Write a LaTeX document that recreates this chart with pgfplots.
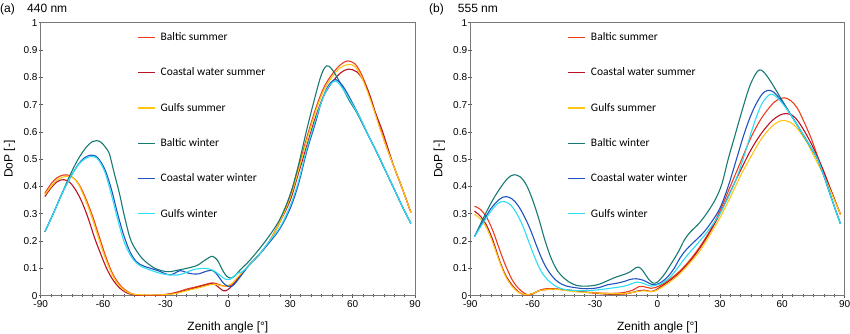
\documentclass[border=0pt]{standalone}
\usepackage{pgfplots}
\pgfplotsset{compat=1.18}
\usepackage{fontspec}
\setmainfont{Liberation Sans}
\newfontfamily\legfont{Carlito}
\definecolor{cBS}{RGB}{238,62,28}
\definecolor{cCS}{RGB}{185,18,38}
\definecolor{cGS}{RGB}{255,198,20}
\definecolor{cBW}{RGB}{22,122,112}
\definecolor{cCW}{RGB}{32,82,192}
\definecolor{cGW}{RGB}{45,222,242}
\definecolor{frame}{RGB}{120,120,120}
\pgfplotsset{
  dop/.style={
    scale only axis, width=374.3pt, height=273pt,
    xmin=-90, xmax=90, ymin=0, ymax=1,
    xtick={-90,-60,-30,0,30,60,90},
    xticklabels={-90,-60,-30,0,30,60,90},
    ytick={0,0.1,0.2,0.3,0.4,0.5,0.6,0.7,0.8,0.9,1},
    yticklabels={0,0.1,0.2,0.3,0.4,0.5,0.6,0.7,0.8,0.9,1},
    minor x tick num=5,
    xtick pos=left, ytick pos=left,
    tick align=center, major tick length=4pt, minor tick length=2.5pt,
    tick style={frame!70!black, line width=0.6pt},
    axis line style={frame, line width=0.8pt},
    ticklabel style={font=\fontsize{10}{12}\selectfont, inner sep=1pt},
    xticklabel style={yshift=-1.5pt},
    label style={font=\fontsize{12}{14}\selectfont},
    xlabel={Zenith angle [°]},
    ylabel={DoP [-]},
    xlabel style={at={(axis description cs:0.5,-0.115)}, anchor=center},
    ylabel style={at={(axis description cs:-0.083,0.5)}, anchor=center},
    legend cell align=left,
    legend style={draw=none, fill=none, inner sep=0pt, row sep=25.8pt, column sep=5pt,
      font=\legfont\fontsize{11.5}{13}\selectfont,
      nodes={inner sep=0pt}},
    every axis plot/.append style={line width=1.1pt, smooth, tension=0.55, no markers},
  },
  leg/.style={legend image code/.code={\fill[#1] (0pt,-1.5pt) rectangle (34pt,1.5pt);}},
}
\begin{document}
\begin{tikzpicture}
% ---------------- panel (a) 440 nm ----------------
\begin{axis}[dop, at={(40.7pt,38.3pt)}, anchor=south west,
  legend style={at={(axis description cs:0.258,0.964)}, anchor=north west}]
\addplot[cBS] coordinates {(-88,0.375) (-85,0.41) (-82,0.433) (-79,0.442) (-77,0.442) (-74,0.43) (-71,0.40) (-68,0.35) (-65,0.29) (-62,0.22) (-59,0.15) (-56,0.09) (-53,0.05) (-50,0.025) (-47,0.01) (-44,0.003) (-40,0.001) (-35,0.002) (-30,0.005) (-25,0.012) (-20,0.024) (-15,0.033) (-10,0.043) (-7,0.047) (-4,0.04) (-1,0.034) (2,0.04) (5,0.065) (10,0.11) (15,0.15) (20,0.2) (25,0.27) (30,0.37) (34,0.47) (38,0.58) (42,0.68) (46,0.76) (50,0.81) (54,0.845) (57.5,0.86) (61,0.85) (64,0.815) (67,0.76) (70,0.69) (73,0.62) (76,0.55) (80,0.47) (84,0.39) (88,0.305)};
\addplot[cCS] coordinates {(-88,0.363) (-85,0.395) (-82,0.418) (-79,0.425) (-76,0.415) (-73,0.385) (-70,0.34) (-67,0.28) (-64,0.21) (-61,0.15) (-58,0.095) (-55,0.055) (-52,0.028) (-49,0.012) (-46,0.004) (-42,0.001) (-35,0.001) (-30,0.003) (-25,0.01) (-20,0.02) (-15,0.03) (-10,0.04) (-8,0.045) (-6,0.04) (-4,0.028) (-2,0.018) (0,0.022) (3,0.045) (6,0.075) (10,0.11) (15,0.15) (20,0.2) (25,0.27) (30,0.35) (34,0.45) (38,0.55) (42,0.65) (46,0.73) (50,0.78) (54,0.815) (58,0.83) (62,0.82) (65,0.79) (68,0.74) (71,0.67) (74,0.61) (77,0.54) (80,0.47) (84,0.39) (88,0.305)};
\addplot[cGS] coordinates {(-88,0.37) (-85,0.40) (-82,0.425) (-78,0.437) (-75,0.435) (-72,0.41) (-69,0.36) (-66,0.30) (-63,0.23) (-60,0.16) (-57,0.1) (-54,0.055) (-51,0.028) (-48,0.012) (-45,0.005) (-40,0.003) (-35,0.003) (-30,0.004) (-25,0.008) (-20,0.018) (-15,0.027) (-10,0.037) (-7,0.042) (-4,0.038) (-1,0.035) (2,0.045) (5,0.07) (10,0.11) (15,0.15) (20,0.2) (25,0.27) (30,0.36) (34,0.46) (38,0.57) (42,0.67) (46,0.75) (50,0.8) (54,0.835) (58,0.847) (61,0.84) (64,0.805) (67,0.75) (70,0.685) (73,0.615) (76,0.55) (80,0.47) (84,0.39) (88,0.305)};
\addplot[cBW] coordinates {(-88,0.234) (-84,0.3) (-80,0.37) (-76,0.44) (-72,0.5) (-68,0.545) (-65,0.565) (-63,0.568) (-61,0.562) (-59,0.545) (-57,0.52) (-55,0.46) (-52,0.37) (-50,0.30) (-47,0.21) (-44,0.165) (-41,0.135) (-38,0.115) (-35,0.1) (-31,0.09) (-28,0.088) (-25,0.092) (-20,0.1) (-15,0.11) (-12,0.125) (-9,0.14) (-7.3,0.144) (-5,0.13) (-3,0.1) (-1,0.075) (1,0.065) (3,0.07) (6,0.095) (10,0.125) (15,0.17) (20,0.22) (25,0.28) (30,0.37) (34,0.48) (38,0.61) (42,0.73) (45,0.81) (47.5,0.842) (50,0.83) (54,0.78) (58,0.72) (62,0.67) (66,0.61) (70,0.55) (75,0.47) (80,0.39) (84,0.325) (88,0.265)};
\addplot[cCW] coordinates {(-88,0.234) (-84,0.3) (-80,0.37) (-76,0.43) (-72,0.48) (-69,0.505) (-66,0.515) (-64,0.513) (-62,0.5) (-59,0.46) (-56,0.39) (-53,0.3) (-50,0.22) (-47,0.16) (-44,0.125) (-41,0.11) (-37,0.1) (-33,0.09) (-30,0.08) (-28,0.076) (-26,0.08) (-23,0.092) (-20,0.085) (-17,0.08) (-14,0.08) (-11,0.088) (-8,0.093) (-6,0.085) (-4,0.065) (-2,0.045) (0,0.035) (2,0.035) (4,0.05) (7,0.08) (10,0.11) (15,0.15) (20,0.195) (25,0.245) (30,0.32) (34,0.41) (38,0.53) (42,0.63) (45,0.71) (48,0.765) (51,0.79) (53,0.787) (56,0.76) (60,0.705) (64,0.645) (68,0.58) (72,0.52) (76,0.455) (80,0.39) (84,0.325) (88,0.265)};
\addplot[cGW] coordinates {(-88,0.234) (-84,0.3) (-80,0.37) (-76,0.43) (-72,0.478) (-69,0.5) (-66,0.51) (-64,0.508) (-62,0.495) (-59,0.45) (-56,0.37) (-53,0.28) (-50,0.2) (-47,0.15) (-44,0.12) (-41,0.105) (-37,0.093) (-33,0.083) (-30,0.078) (-27,0.076) (-24,0.076) (-21,0.082) (-18,0.092) (-15,0.098) (-12,0.1) (-9,0.098) (-6,0.088) (-3,0.07) (-1,0.06) (1,0.06) (3,0.072) (5,0.083) (7,0.088) (10,0.11) (15,0.15) (20,0.2) (25,0.25) (30,0.33) (34,0.42) (38,0.54) (42,0.64) (45,0.71) (48,0.76) (51,0.785) (53,0.78) (56,0.75) (60,0.7) (64,0.645) (68,0.58) (72,0.52) (76,0.455) (80,0.39) (84,0.325) (88,0.265)};
\addlegendimage{leg=cBS}\addlegendentry{Baltic summer}
\addlegendimage{leg=cCS}\addlegendentry{Coastal water summer}
\addlegendimage{leg=cGS}\addlegendentry{Gulfs summer}
\addlegendimage{leg=cBW}\addlegendentry{Baltic winter}
\addlegendimage{leg=cCW}\addlegendentry{Coastal water winter}
\addlegendimage{leg=cGW}\addlegendentry{Gulfs winter}
\end{axis}
% ---------------- panel (b) 555 nm ----------------
\begin{axis}[dop, at={(470.3pt,38.3pt)}, anchor=south west,
  legend style={at={(axis description cs:0.260,0.964)}, anchor=north west}]
\addplot[cBS] coordinates {(-88,0.328) (-85,0.315) (-82,0.285) (-79,0.235) (-76,0.17) (-73,0.11) (-70,0.06) (-67,0.028) (-64,0.009) (-62,0.003) (-60,0.006) (-58,0.015) (-56,0.022) (-53,0.026) (-49,0.025) (-45,0.022) (-40,0.018) (-35,0.014) (-30,0.011) (-25,0.009) (-20,0.009) (-16,0.012) (-12,0.02) (-9,0.033) (-7,0.034) (-5,0.03) (-3,0.027) (-1,0.03) (2,0.04) (5,0.055) (10,0.085) (15,0.125) (20,0.175) (25,0.235) (30,0.31) (35,0.4) (40,0.49) (45,0.58) (50,0.65) (55,0.7) (58,0.718) (61,0.725) (64,0.715) (67,0.69) (70,0.645) (74,0.575) (77,0.51) (80,0.45) (84,0.375) (88,0.298)};
\addplot[cCS] coordinates {(-88,0.31) (-85,0.29) (-82,0.255) (-79,0.2) (-76,0.13) (-73,0.075) (-70,0.04) (-67,0.015) (-64,0.003) (-62,0.003) (-60,0.008) (-57,0.018) (-54,0.022) (-50,0.024) (-45,0.022) (-40,0.018) (-35,0.013) (-30,0.009) (-25,0.006) (-20,0.005) (-15,0.007) (-12,0.012) (-9,0.018) (-6,0.02) (-3,0.015) (-1,0.02) (2,0.035) (5,0.05) (10,0.08) (15,0.12) (20,0.17) (25,0.23) (30,0.3) (35,0.38) (40,0.46) (45,0.535) (50,0.595) (55,0.64) (59,0.662) (62,0.667) (65,0.66) (68,0.635) (72,0.585) (76,0.525) (80,0.455) (84,0.375) (88,0.298)};
\addplot[cGS] coordinates {(-88,0.298) (-85,0.28) (-82,0.245) (-79,0.19) (-76,0.125) (-73,0.07) (-70,0.035) (-67,0.013) (-64,0.004) (-62,0.004) (-60,0.008) (-57,0.018) (-54,0.022) (-50,0.024) (-45,0.02) (-40,0.015) (-35,0.012) (-30,0.01) (-25,0.008) (-20,0.007) (-15,0.008) (-12,0.012) (-9,0.016) (-6,0.018) (-3,0.015) (-1,0.018) (2,0.03) (5,0.045) (10,0.075) (15,0.115) (20,0.16) (25,0.22) (30,0.285) (35,0.36) (40,0.44) (45,0.51) (50,0.575) (55,0.62) (59,0.64) (62,0.64) (65,0.63) (68,0.605) (72,0.56) (76,0.5) (80,0.44) (84,0.37) (88,0.298)};
\addplot[cBW] coordinates {(-88,0.216) (-84,0.28) (-80,0.34) (-76,0.39) (-72,0.43) (-69,0.443) (-66,0.435) (-63,0.405) (-60,0.35) (-57,0.28) (-54,0.2) (-51,0.135) (-48,0.09) (-45,0.065) (-42,0.048) (-39,0.038) (-36,0.035) (-32,0.036) (-28,0.042) (-24,0.055) (-20,0.068) (-16,0.078) (-13,0.088) (-10,0.104) (-8,0.1) (-6,0.08) (-4,0.058) (-2,0.046) (0,0.05) (3,0.075) (6,0.11) (10,0.16) (13,0.205) (16,0.235) (20,0.265) (24,0.305) (28,0.355) (31,0.41) (34,0.5) (37,0.58) (40,0.66) (44,0.76) (47,0.81) (49,0.827) (51,0.82) (54,0.79) (58,0.74) (62,0.69) (66,0.64) (70,0.59) (74,0.54) (77,0.5) (80,0.44) (84,0.35) (88,0.263)};
\addplot[cCW] coordinates {(-88,0.216) (-84,0.27) (-80,0.32) (-76,0.353) (-73,0.363) (-70,0.355) (-67,0.33) (-64,0.29) (-61,0.24) (-58,0.18) (-55,0.125) (-52,0.085) (-49,0.058) (-46,0.042) (-43,0.034) (-40,0.03) (-36,0.026) (-32,0.026) (-28,0.03) (-24,0.04) (-20,0.045) (-16,0.052) (-13,0.06) (-10,0.062) (-7,0.057) (-5,0.05) (-3,0.042) (-1,0.04) (2,0.05) (5,0.07) (8,0.1) (11,0.14) (14,0.17) (18,0.2) (22,0.23) (26,0.27) (30,0.32) (34,0.4) (38,0.5) (42,0.6) (46,0.68) (50,0.735) (53,0.752) (56,0.745) (60,0.71) (63,0.675) (66,0.64) (70,0.59) (74,0.54) (77,0.5) (80,0.44) (84,0.35) (88,0.263)};
\addplot[cGW] coordinates {(-88,0.216) (-84,0.265) (-80,0.31) (-77,0.337) (-74,0.345) (-71,0.335) (-68,0.305) (-65,0.26) (-62,0.2) (-59,0.14) (-56,0.09) (-53,0.06) (-50,0.04) (-47,0.028) (-44,0.022) (-40,0.019) (-36,0.018) (-32,0.019) (-28,0.022) (-24,0.026) (-20,0.03) (-16,0.035) (-13,0.042) (-10,0.05) (-8,0.048) (-5,0.04) (-3,0.035) (-1,0.038) (2,0.045) (5,0.06) (8,0.085) (11,0.115) (14,0.145) (18,0.18) (22,0.215) (26,0.255) (30,0.3) (34,0.36) (38,0.43) (42,0.52) (46,0.62) (50,0.7) (54,0.737) (57,0.73) (60,0.705) (63,0.675) (66,0.64) (70,0.59) (74,0.54) (77,0.5) (80,0.44) (84,0.35) (88,0.263)};
\addlegendimage{leg=cBS}\addlegendentry{Baltic summer}
\addlegendimage{leg=cCS}\addlegendentry{Coastal water summer}
\addlegendimage{leg=cGS}\addlegendentry{Gulfs summer}
\addlegendimage{leg=cBW}\addlegendentry{Baltic winter}
\addlegendimage{leg=cCW}\addlegendentry{Coastal water winter}
\addlegendimage{leg=cGW}\addlegendentry{Gulfs winter}
\end{axis}
\node[anchor=base west, font=\fontsize{12}{14}\selectfont, inner sep=0pt] at (0pt,321.7pt) {(a)};
\node[anchor=base west, font=\fontsize{12}{14}\selectfont, inner sep=0pt] at (27pt,321.7pt) {440 nm};
\node[anchor=base west, font=\fontsize{12}{14}\selectfont, inner sep=0pt] at (429pt,321.7pt) {(b)};
\node[anchor=base west, font=\fontsize{12}{14}\selectfont, inner sep=0pt] at (457.7pt,321.7pt) {555 nm};
\pgfresetboundingbox
\path[use as bounding box] (0pt,0pt) rectangle (850pt,334pt);
\end{tikzpicture}
\end{document}
